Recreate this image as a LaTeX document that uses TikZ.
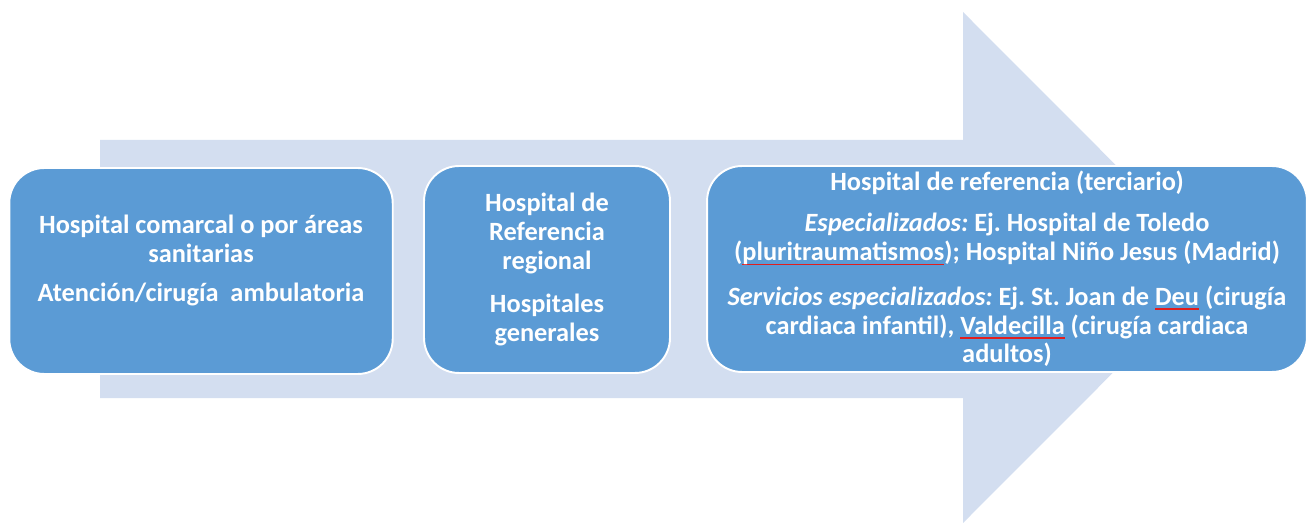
\documentclass[tikz,border=0pt]{standalone}
\usepackage{fontspec}
\setmainfont{Carlito}
\usepackage{xcolor}
\usepackage{tikz}
\definecolor{arrowfill}{RGB}{211,222,240}
\definecolor{tierfill}{RGB}{91,155,213}
\definecolor{spellred}{RGB}{225,30,30}
\newsavebox{\spellbox}
\newcommand{\spellmark}[1]{\sbox{\spellbox}{#1}\rlap{\color{spellred}\rule[-2.6pt]{\wd\spellbox}{0.75pt}}\usebox{\spellbox}}
\frenchspacing

\begin{document}
\begin{tikzpicture}[x=0.02cm,y=-0.02cm,
	tier/.style={draw=white,line width=1.1pt,fill=tierfill,rounded corners=0.7cm,
		text=white,align=center,inner sep=0pt,
		font=\bfseries\fontsize{15pt}{16.4pt}\selectfont}]
		\useasboundingbox (0,0) rectangle (1308,523);
		%
		\fill[arrowfill] (100,140) -- (963,140) -- (963,12) -- (1218,267.5)
			-- (963,523) -- (963,398) -- (100,398) -- cycle;
		
		\node[tier,minimum width=7.67cm,minimum height=4.12cm] (comarcal) at (201,271)
			{Hospital comarcal o por áreas\\ sanitarias\\[6pt]
			Atención/cirugía\ \ ambulatoria\\[-2pt]\mbox{}};
		\node[tier,minimum width=4.92cm,minimum height=4.14cm] (regional) at (547,269.5)
			{Hospital de\\ Referencia\\ regional\\[8pt] Hospitales\\ generales};
		\node[tier,minimum width=12cm,minimum height=4.12cm] (terciario) at (1007,269)
			{Hospital de referencia (terciario)\\[7pt]
			\textit{Especializados:} Ej. Hospital de Toledo\\
			(\spellmark{pluritraumatismos}); Hospital Niño Jesus (Madrid)\\[9pt]
			\textit{Servicios especializados:} Ej. St. Joan de \spellmark{Deu} (cirugía\\
			cardiaca infantil), \spellmark{Valdecilla} (cirugía cardiaca\\
			adultos)};
		
	\end{tikzpicture}
\end{document}
